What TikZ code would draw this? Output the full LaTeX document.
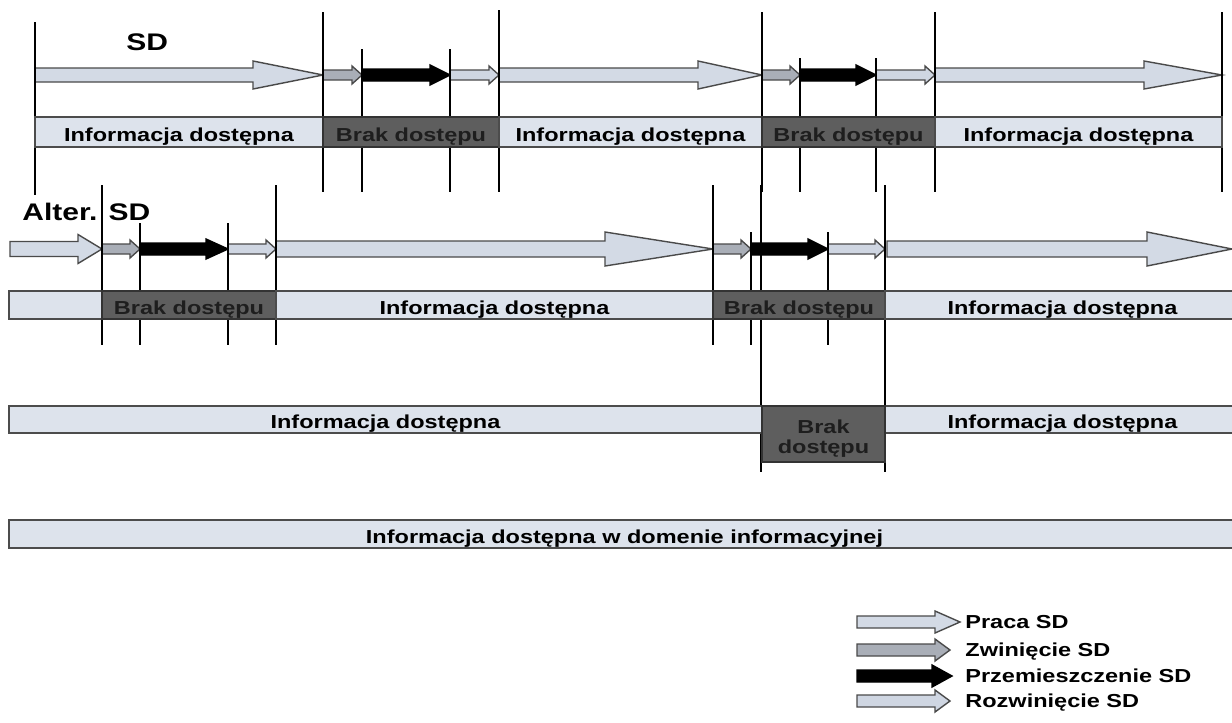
\documentclass[tikz,border=0pt]{standalone}
\usepackage{fontspec}
\setmainfont{Liberation Sans}[FakeStretch=1.25]
\usepackage{tikz}
\usetikzlibrary{positioning}
\usepackage{xcolor}

\definecolor{availfill}{HTML}{DDE3EC}
\definecolor{noaccfill}{HTML}{5E5E5E}
\definecolor{noacctext}{HTML}{1E1E1E}
\definecolor{pracafill}{HTML}{D3DAE5}
\definecolor{zwinfill}{HTML}{A9AEB7}
\definecolor{rozwfill}{HTML}{CFD6E2}
\definecolor{arrowedge}{HTML}{4A4A4A}

% block arrow: style, from x, to x, y, shaft half, head half, head length
\newcommand{\blockarrow}[7]{%
  \draw[#1] (#2,#4-#5) -- (#3-#7,#4-#5) -- (#3-#7,#4-#6) -- (#3,#4)
    -- (#3-#7,#4+#6) -- (#3-#7,#4+#5) -- (#2,#4+#5) -- cycle;}
\newcommand{\zwinarrow}[3]{\blockarrow{zwin}{#1}{#2}{#3}{5}{9}{10}}
\newcommand{\przemarrow}[4]{\blockarrow{przem}{#1}{#2}{#3}{6}{10}{#4}}
\newcommand{\rozwarrow}[3]{\blockarrow{rozw}{#1}{#2}{#3}{5}{9}{10}}
% bar segment: style, x1, x2, y1, y2, name, text
\newcommand{\infoseg}[7]{%
  \draw[#1] (#2,#4) rectangle (#3,#5);
  \node[#1 text, anchor=base] (#6) at ({(#2+#3)/2},{(#4+#5)/2+9}) {#7};}

\begin{document}
\begin{tikzpicture}[
  x=0.5pt, y=-0.5pt,
  every node/.style={font=\fontsize{9.4}{11}\selectfont\bfseries, inner sep=0pt},
  avail/.style={draw=black!70, line width=0.6pt, fill=availfill},
  noacc/.style={draw=black!80, line width=0.6pt, fill=noaccfill},
  avail text/.style={text=black},
  noacc text/.style={text=noacctext, align=center},
  tick/.style={line width=1pt},
  praca/.style={draw=arrowedge, line width=0.7pt, fill=pracafill},
  zwin/.style={draw=arrowedge, line width=0.7pt, fill=zwinfill},
  przem/.style={draw=black, line width=0.7pt, fill=black},
  rozw/.style={draw=arrowedge, line width=0.7pt, fill=rozwfill},
  biglabel/.style={font=\fontsize{12}{14}\selectfont\bfseries, anchor=base west},
  legend/.style={anchor=base west}
]
\useasboundingbox (0,0) rectangle (1232,723);
\clip (0,0) rectangle (1232,723);

% SD arrows
\blockarrow{praca}{35}{323}{75}{7}{14}{70}
\zwinarrow{323}{362}{75}
\przemarrow{362}{450}{75}{20}
\rozwarrow{450}{499}{75}
\blockarrow{praca}{499}{762}{75}{7}{14}{64}
\zwinarrow{762}{800}{75}
\przemarrow{800}{876}{75}{20}
\rozwarrow{876}{935}{75}
\blockarrow{praca}{935}{1222}{75}{7}{14}{78}

% alternative SD arrows
\blockarrow{praca}{10}{102}{249}{7.5}{14.5}{24}
\zwinarrow{102}{140}{249}
\przemarrow{140}{228}{249}{22}
\rozwarrow{228}{276}{249}
\blockarrow{praca}{276}{713}{249}{8}{17}{108}
\zwinarrow{713}{751}{249}
\przemarrow{751}{828}{249}{20}
\rozwarrow{828}{885}{249}
\blockarrow{praca}{887}{1232}{249}{8}{17}{85}

% time marks
\foreach \x/\ya/\yb in {35/22/195, 323/12/192, 362/49/192, 450/49/192, 499/10/192,
    762/12/192, 800/58/192, 876/58/192, 935/12/192, 1222/12/192,
    102/185/345, 140/223/345, 228/223/345, 276/185/345, 713/185/345,
    751/232/345, 761/185/472, 828/232/345, 885/185/472}
  \draw[tick] (\x,\ya) -- (\x,\yb);

% availability bars
\infoseg{avail}{35}{323}{117}{147}{inf1a}{Informacja dostępna}
\infoseg{noacc}{323}{499}{117}{147}{brak1a}{Brak dostępu}
\infoseg{avail}{499}{762}{117}{147}{inf1b}{Informacja dostępna}
\infoseg{noacc}{762}{935}{117}{147}{brak1b}{Brak dostępu}
\infoseg{avail}{935}{1222}{117}{147}{inf1c}{Informacja dostępna}

\infoseg{avail}{9}{102}{291}{319}{inf2a}{}
\infoseg{noacc}{102}{276}{291}{319}{brak2a}{Brak dostępu}
\infoseg{avail}{276}{713}{291}{319}{inf2b}{Informacja dostępna}
\infoseg{noacc}{713}{885}{291}{319}{brak2b}{Brak dostępu}
\infoseg{avail}{885}{1240}{291}{319}{inf2c}{Informacja dostępna}

\infoseg{avail}{9}{762}{406}{433}{inf3a}{Informacja dostępna}
\infoseg{avail}{885}{1240}{406}{433}{inf3b}{Informacja dostępna}
\draw[noacc] (762,406) rectangle (885,462);
\node[noacc text, anchor=base, font=\fontsize{9.4}{9.6}\selectfont\bfseries]
  (brak3) at (823.5,453) {Brak\\dostępu};

\infoseg{avail}{9}{1240}{520}{548}{inf4}{Informacja dostępna w domenie informacyjnej}

% labels
\node[biglabel] (sd)    at (126,50)  {SD};
\node[biglabel] (altsd) at (22,220)  {Alter. SD};

% legend
\blockarrow{praca}{857}{960}{622}{6}{11}{25}
\blockarrow{zwin}{857}{950}{650}{6}{11}{15}
\blockarrow{przem}{857}{952}{676}{6}{11}{20}
\blockarrow{rozw}{857}{950}{701}{6}{11}{15}
\node[legend] (lpraca) at (965,628.5) {Praca SD};
\node[legend] (lzwin)  at (965,656.5) {Zwinięcie SD};
\node[legend] (lprzem) at (965,682.5) {Przemieszczenie SD};
\node[legend] (lrozw)  at (965,707.5) {Rozwinięcie SD};
\end{tikzpicture}
\end{document}
